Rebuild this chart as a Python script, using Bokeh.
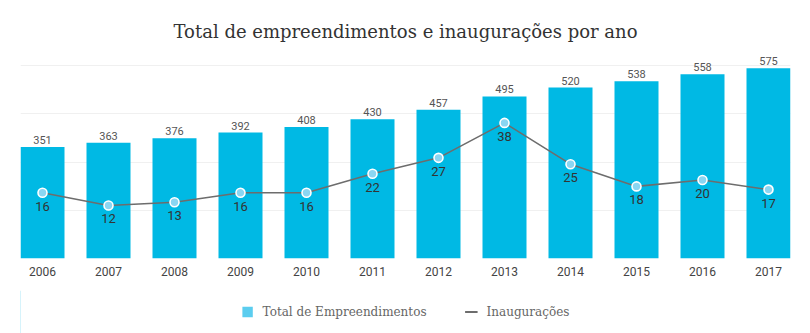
from bokeh.plotting import figure
from bokeh.layouts import column
from bokeh.models import (Range1d, FixedTicker, ColumnDataSource,
                          Legend, LegendItem)
from bokeh.core.properties import value
from bokeh.embed import file_html
from bokeh.resources import INLINE

years = [2006, 2007, 2008, 2009, 2010, 2011, 2012, 2013, 2014, 2015, 2016, 2017]
year_labels = [str(y) for y in years]
empreendimentos = [351, 363, 376, 392, 408, 430, 457, 495, 520, 538, 558, 575]
inauguracoes = [16, 12, 13, 16, 16, 22, 27, 38, 25, 18, 20, 17]
series_names = ["Total de Empreendimentos", "Inaugurações"]

BAR_LO, BAR_TOPGRID, BAR_HI = 33.5, 582.7, 625.6
LINE_LO, LINE_HI = -4.7, 60.8

src = ColumnDataSource(dict(
    x=years,
    emp=empreendimentos,
    emp_txt=[str(v) for v in empreendimentos],
    ina=inauguracoes,
    ina_txt=[str(v) for v in inauguracoes],
))

p = figure(width=810, height=290, output_backend="svg",
           toolbar_location=None,
           x_range=Range1d(2006 - 1/3, 2017 + 1/3),
           y_range=Range1d(BAR_LO, BAR_HI),
           min_border_left=20, min_border_right=20,
           min_border_top=50, min_border_bottom=32)
p.extra_y_ranges = {"ina": Range1d(LINE_LO, LINE_HI)}

p.title.text = "Total de empreendimentos e inaugurações por ano"
p.title.align = "center"
p.title.text_font = "DejaVu Serif"
p.title.text_font_size = "18px"
p.title.text_font_style = "normal"
p.title.text_color = "#333333"
p.title.standoff = 18

p.outline_line_color = None
p.xgrid.grid_line_color = None
p.yaxis.visible = False
step = (BAR_TOPGRID - BAR_LO) / 4
p.ygrid.ticker = FixedTicker(ticks=[BAR_LO + i * step for i in range(5)])
p.ygrid.grid_line_color = "#f0f0f0"
p.ygrid.grid_line_width = 1

p.xaxis.ticker = FixedTicker(ticks=years)
p.xaxis.major_label_overrides = {y: s for y, s in zip(years, year_labels)}
p.xaxis.axis_line_color = None
p.xaxis.major_tick_line_color = None
p.xaxis.minor_tick_line_color = None
p.xaxis.major_tick_out = 0
p.xaxis.major_tick_in = 0
p.xaxis.minor_tick_out = 0
p.xaxis.major_label_text_font = "Roboto"
p.xaxis.major_label_text_font_size = "12px"
p.xaxis.major_label_text_color = "#444444"
p.xaxis.major_label_standoff = 8

p.vbar(x="x", top="emp", bottom=BAR_LO, width=2/3, source=src,
       fill_color="#00b9e4", line_color=None)
p.text(x="x", y="emp", text="emp_txt", source=src, text_align="center",
       text_baseline="bottom", y_offset=-3, text_font=value("Roboto"),
       text_font_size="11px", text_color="#555555")

p.line(x="x", y="ina", source=src, y_range_name="ina",
       line_color="#6d6d6d", line_width=1.6)
p.scatter(x="x", y="ina", source=src, y_range_name="ina", size=9,
          fill_color="#8ad6f2", line_color="white", line_width=1.6)
p.text(x="x", y="ina", text="ina_txt", source=src, y_range_name="ina",
       text_align="center", text_baseline="top", y_offset=9,
       text_font=value("Roboto"), text_font_size="13px", text_color="#333333")

# legend strip below the chart
lg = figure(width=810, height=43, output_backend="svg", toolbar_location=None,
            x_range=Range1d(0, 1), y_range=Range1d(0, 1),
            x_axis_type=None, y_axis_type=None, min_border=0)
lg.outline_line_color = None
lg.grid.grid_line_color = None
sw_bar = lg.vbar(x=[-5], top=[1], bottom=0, width=0.5,
                 fill_color="#5bcdef", line_color=None)
sw_line = lg.line(x=[-5, -4], y=[0.5, 0.5], line_color="#6d6d6d", line_width=2)
legend = Legend(items=[LegendItem(label=series_names[0], renderers=[sw_bar]),
                       LegendItem(label=series_names[1], renderers=[sw_line])],
                orientation="horizontal", location="center",
                label_text_font="DejaVu Serif", label_text_font_size="12px",
                label_text_color="#666666", glyph_width=13, glyph_height=13,
                label_height=14, label_standoff=9, spacing=38,
                border_line_color=None, background_fill_alpha=0,
                padding=0, margin=0)
lg.add_layout(legend, "center")

layout = column(p, lg, spacing=0)
open("out.html", "w").write(file_html(layout, INLINE))
